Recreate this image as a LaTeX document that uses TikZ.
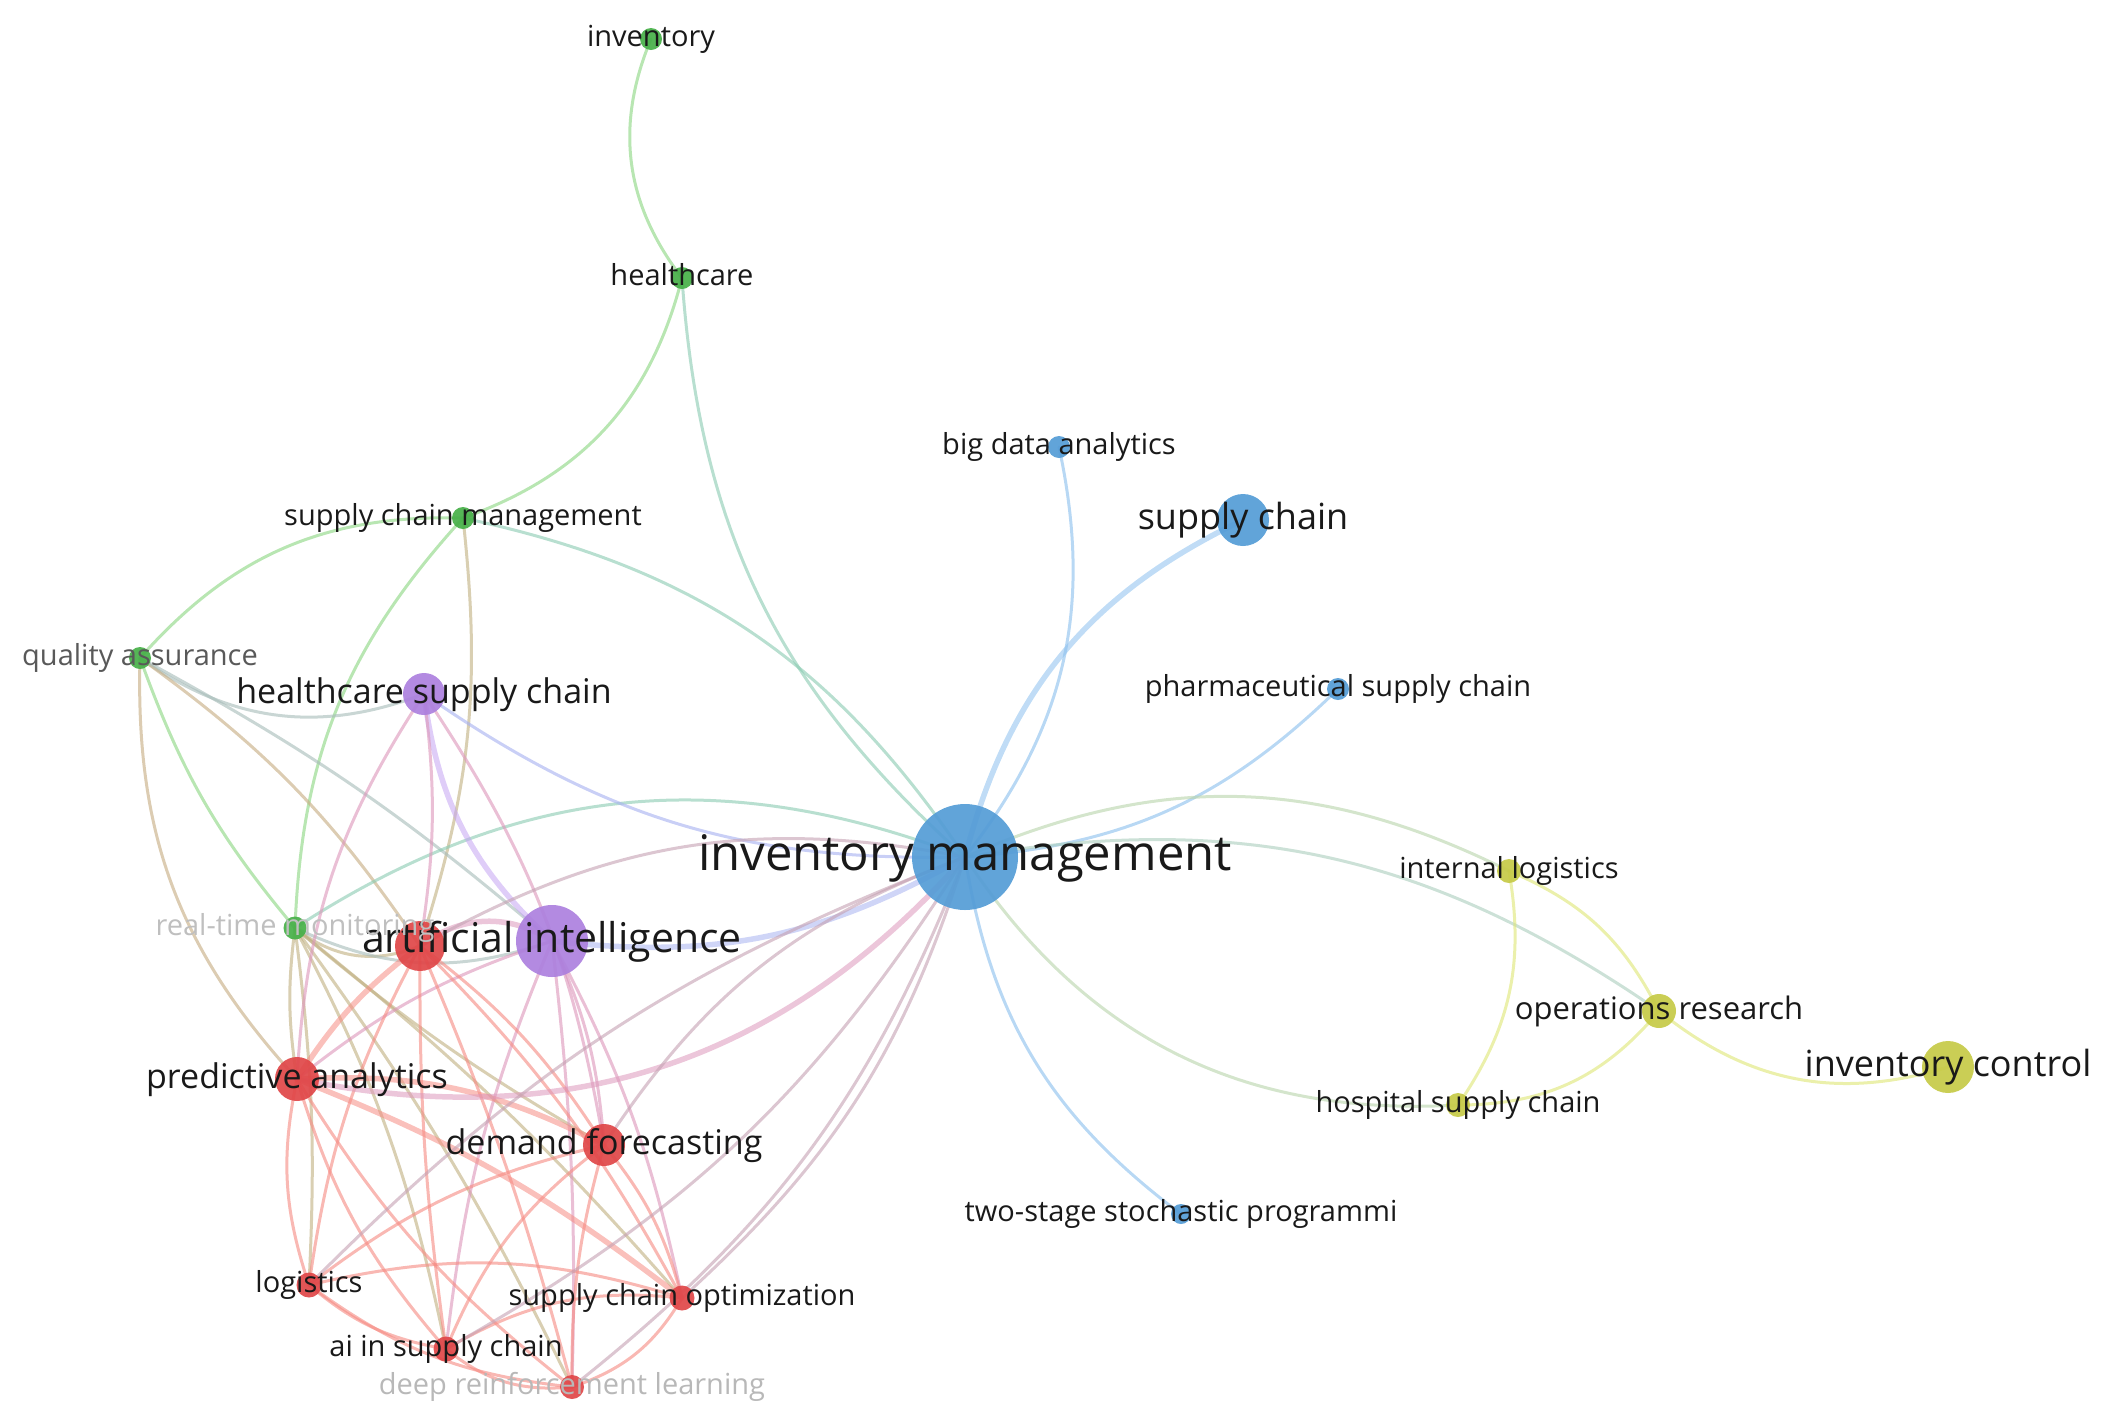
\documentclass[tikz,border=0pt]{standalone}
\usepackage{fontspec}
\setmainfont{Open Sans}
\usetikzlibrary{backgrounds}

\definecolor{cRed}{RGB}{224,70,72}
\definecolor{cGreen}{RGB}{70,176,72}
\definecolor{cBlue}{RGB}{84,156,214}
\definecolor{cYellow}{RGB}{198,202,70}
\definecolor{cPurple}{RGB}{172,128,222}
\definecolor{eRed}{RGB}{246,140,132}
\definecolor{eGreen}{RGB}{140,214,130}
\definecolor{eBlue}{RGB}{140,192,238}
\definecolor{eYellow}{RGB}{222,230,120}
\definecolor{ePurple}{RGB}{196,164,242}

\newcommand{\fs}[1]{\fontsize{#1}{#1}\selectfont}

\tikzset{
  kw/.style={circle, inner sep=0pt, minimum size=#1, fill opacity=0.92},
  lbl/.style={inner sep=0pt, font=\fs{#1}, text height={0.74*#1pt}, text depth={0.2*#1pt}, text=black!90},
  lk/.style={line width=3pt, draw opacity=0.62, line cap=round},
  lkw/.style={line width=5.5pt, draw opacity=0.55, line cap=round}
}

\begin{document}
\begin{tikzpicture}[x=1pt, y=-1pt]
  \useasboundingbox (0,0) rectangle (2105,1425);

  % keywords (circles)
  \node[kw=106, fill=cBlue] (im) at (965,857) {};
  \node[kw=72, fill=cPurple] (ai) at (552,941) {};
  \node[kw=50, fill=cRed] (air) at (420,946) {};
  \node[kw=42, fill=cPurple] (hsc) at (424,694) {};
  \node[kw=52, fill=cBlue] (sc) at (1243,520) {};
  \node[kw=52, fill=cYellow] (ic) at (1948,1067) {};
  \node[kw=44, fill=cRed] (pa) at (297,1079) {};
  \node[kw=42, fill=cRed] (df) at (604,1145) {};
  \node[kw=34, fill=cYellow] (opr) at (1659,1011) {};
  \node[kw=24, fill=cYellow] (il) at (1509,871) {};
  \node[kw=24, fill=cYellow] (hos) at (1458,1105) {};
  \node[kw=25, fill=cRed] (sco) at (682,1298) {};
  \node[kw=25, fill=cRed] (lg) at (309,1285) {};
  \node[kw=25, fill=cRed] (aisc) at (446,1349) {};
  \node[kw=24, fill=cRed] (drl) at (572,1387) {};
  \node[kw=23, fill=cGreen] (rtm) at (295,928) {};
  \node[kw=22, fill=cGreen] (qa) at (140,658) {};
  \node[kw=22, fill=cGreen] (scm) at (463,518) {};
  \node[kw=22, fill=cGreen] (hc) at (682,278) {};
  \node[kw=22, fill=cGreen] (inv) at (651,39) {};
  \node[kw=22, fill=cBlue] (bda) at (1059,447) {};
  \node[kw=22, fill=cBlue] (psc) at (1338,689) {};
  \node[kw=20, fill=cBlue] (ts) at (1181,1214) {};

  \begin{pgfonlayer}{background}
    % green cluster
    \draw[lk, draw=eGreen] (inv.center) to[bend right=30] (hc.center);
    \draw[lk, draw=eGreen] (hc.center) to[bend left=28] (scm.center);
    \draw[lk, draw=eGreen!55!eBlue] (hc.center) to[bend right=22] (im.center);
    \draw[lk, draw=eGreen] (scm.center) to[bend right=25] (qa.center);
    \draw[lk, draw=eGreen!55!eBlue] (scm.center) to[bend left=22] (im.center);
    \draw[lk, draw=eGreen] (scm.center) to[bend right=20] (rtm.center);
    \draw[lk, draw=eGreen!50!eRed] (scm.center) to[bend left=12] (air.center);
    \draw[lk, draw=eGreen!50!ePurple] (qa.center) to[bend right=28] (hsc.center);
    \draw[lk, draw=eGreen] (qa.center) to[bend right=10] (rtm.center);
    \draw[lk, draw=eGreen!45!eRed] (qa.center) to[bend right=22] (pa.center);
    \draw[lk, draw=eGreen!45!eRed] (qa.center) to[bend left=10] (air.center);
    \draw[lk, draw=eGreen!50!ePurple] (qa.center) to[bend left=6] (ai.center);
    \draw[lk, draw=eGreen!55!eBlue] (rtm.center) to[bend left=27] (im.center);
    \draw[lk, draw=eGreen!50!eRed] (rtm.center) to[bend right=30] (air.center);
    \draw[lk, draw=eGreen!50!ePurple] (rtm.center) to[bend right=22] (ai.center);
    \draw[lk, draw=eGreen!50!eRed] (rtm.center) to[bend right=8] (pa.center);
    \draw[lk, draw=eGreen!50!eRed] (rtm.center) to[bend left=5] (lg.center);
    \draw[lk, draw=eGreen!50!eRed] (rtm.center) to[bend left=8] (aisc.center);
    \draw[lk, draw=eGreen!50!eRed] (rtm.center) to[bend right=5] (df.center);
    \draw[lk, draw=eGreen!50!eRed] (rtm.center) to[bend left=5] (sco.center);
    \draw[lk, draw=eGreen!50!eRed] (rtm.center) to[bend left=5] (drl.center);

    % purple cluster
    \draw[lkw, draw=ePurple] (hsc.center) to[bend right=20] (ai.center);
    \draw[lk, draw=ePurple!50!eBlue] (hsc.center) to[bend right=18] (im.center);
    \draw[lk, draw=ePurple!50!eRed] (hsc.center) to[bend right=15] (pa.center);
    \draw[lk, draw=ePurple!50!eRed] (hsc.center) to[bend left=8] (air.center);
    \draw[lk, draw=ePurple!50!eRed] (hsc.center) to[bend left=12] (df.center);
    \draw[lkw, draw=ePurple!50!eBlue] (ai.center) to[bend right=18] (im.center);
    \draw[lkw, draw=ePurple!50!eRed] (ai.center) to[bend right=35] (air.center);
    \draw[lk, draw=ePurple!50!eRed] (ai.center) to[bend right=10] (pa.center);
    \draw[lk, draw=ePurple!50!eRed] (ai.center) to[bend left=10] (df.center);
    \draw[lk, draw=ePurple!50!eRed] (ai.center) to[bend right=8] (aisc.center);
    \draw[lk, draw=ePurple!50!eRed] (ai.center) to[bend left=8] (sco.center);
    \draw[lk, draw=ePurple!50!eRed] (ai.center) to[bend left=4] (drl.center);

    % red cluster
    \draw[lk, draw=eRed!55!eBlue] (air.center) to[bend left=20] (im.center);
    \draw[lkw, draw=eRed] (air.center) to[bend right=10] (pa.center);
    \draw[lk, draw=eRed] (air.center) to[bend left=10] (df.center);
    \draw[lk, draw=eRed] (air.center) to[bend right=10] (lg.center);
    \draw[lk, draw=eRed] (air.center) to[bend right=4] (aisc.center);
    \draw[lk, draw=eRed] (air.center) to[bend left=8] (sco.center);
    \draw[lk, draw=eRed] (air.center) to[bend left=4] (drl.center);
    \draw[lkw, draw=eRed] (pa.center) to[bend left=15] (df.center);
    \draw[lkw, draw=eRed!50!ePurple] (pa.center) to[bend right=30] (im.center);
    \draw[lk, draw=eRed] (pa.center) to[bend right=15] (lg.center);
    \draw[lk, draw=eRed] (pa.center) to[bend right=12] (aisc.center);
    \draw[lkw, draw=eRed] (pa.center) to[bend left=8] (sco.center);
    \draw[lk, draw=eRed] (pa.center) to[bend right=10] (drl.center);
    \draw[lk, draw=eRed!55!eBlue] (df.center) to[bend left=18] (im.center);
    \draw[lk, draw=eRed] (df.center) to[bend right=12] (lg.center);
    \draw[lk, draw=eRed] (df.center) to[bend right=15] (aisc.center);
    \draw[lk, draw=eRed] (df.center) to[bend left=12] (sco.center);
    \draw[lk, draw=eRed] (df.center) to[bend right=8] (drl.center);
    \draw[lk, draw=eRed] (lg.center) to[bend left=15] (sco.center);
    \draw[lk, draw=eRed] (lg.center) to[bend right=15] (aisc.center);
    \draw[lk, draw=eRed] (lg.center) to[bend right=15] (drl.center);
    \draw[lk, draw=eRed!55!eBlue] (lg.center) to[bend left=12] (im.center);
    \draw[lk, draw=eRed] (aisc.center) to[bend left=18] (sco.center);
    \draw[lk, draw=eRed] (aisc.center) to[bend right=22] (drl.center);
    \draw[lk, draw=eRed!55!eBlue] (aisc.center) to[bend right=14] (im.center);
    \draw[lk, draw=eRed] (sco.center) to[bend left=20] (drl.center);
    \draw[lk, draw=eRed!55!eBlue] (sco.center) to[bend right=15] (im.center);
    \draw[lk, draw=eRed!55!eBlue] (drl.center) to[bend right=15] (im.center);

    % blue cluster
    \draw[lk, draw=eBlue] (im.center) to[bend right=25] (bda.center);
    \draw[lkw, draw=eBlue] (im.center) to[bend left=25] (sc.center);
    \draw[lk, draw=eBlue] (im.center) to[bend right=20] (psc.center);
    \draw[lk, draw=eBlue] (im.center) to[bend right=22] (ts.center);

    % yellow cluster
    \draw[lk, draw=eBlue!45!eYellow] (im.center) to[bend left=25] (il.center);
    \draw[lk, draw=eBlue!60!eYellow] (im.center) to[bend left=22] (opr.center);
    \draw[lk, draw=eBlue!45!eYellow] (im.center) to[bend right=30] (hos.center);
    \draw[lk, draw=eYellow] (il.center) to[bend left=20] (opr.center);
    \draw[lk, draw=eYellow] (il.center) to[bend left=22] (hos.center);
    \draw[lk, draw=eYellow] (opr.center) to[bend left=25] (hos.center);
    \draw[lk, draw=eYellow] (opr.center) to[bend right=28] (ic.center);
  \end{pgfonlayer}

  % labels
  \node[lbl=49] (imL) at (im) {inventory management};
  \node[lbl=41] (aiL) at (ai) {artificial intelligence};
  \node[lbl=34] (hscL) at (hsc) {healthcare supply chain};
  \node[lbl=36] (scL) at (sc) {supply chain};
  \node[lbl=36] (icL) at (ic) {inventory control};
  \node[lbl=34] (paL) at (pa) {predictive analytics};
  \node[lbl=34] (dfL) at (df) {demand forecasting};
  \node[lbl=31] (oprL) at (opr) {operations research};
  \node[lbl=29] (ilL) at (il) {internal logistics};
  \node[lbl=29] (hosL) at (hos) {hospital supply chain};
  \node[lbl=29] (scoL) at (sco) {supply chain optimization};
  \node[lbl=29] (lgL) at (lg) {logistics};
  \node[lbl=29] (aiscL) at (aisc) {ai in supply chain};
  \node[lbl=29, text=black!28] (drlL) at (drl) {deep reinforcement learning};
  \node[lbl=29, text=black!25] (rtmL) at (rtm) {real-time monitoring};
  \node[lbl=29, text=black!65] (qaL) at (qa) {quality assurance};
  \node[lbl=29] (scmL) at (scm) {supply chain management};
  \node[lbl=29] (hcL) at (hc) {healthcare};
  \node[lbl=29] (invL) at (inv) {inventory};
  \node[lbl=29] (bdaL) at (bda) {big data analytics};
  \node[lbl=29] (pscL) at (psc) {pharmaceutical supply chain};
  \node[lbl=29] (tsL) at (ts) {two-stage stochastic programmi};
\end{tikzpicture}
\end{document}
